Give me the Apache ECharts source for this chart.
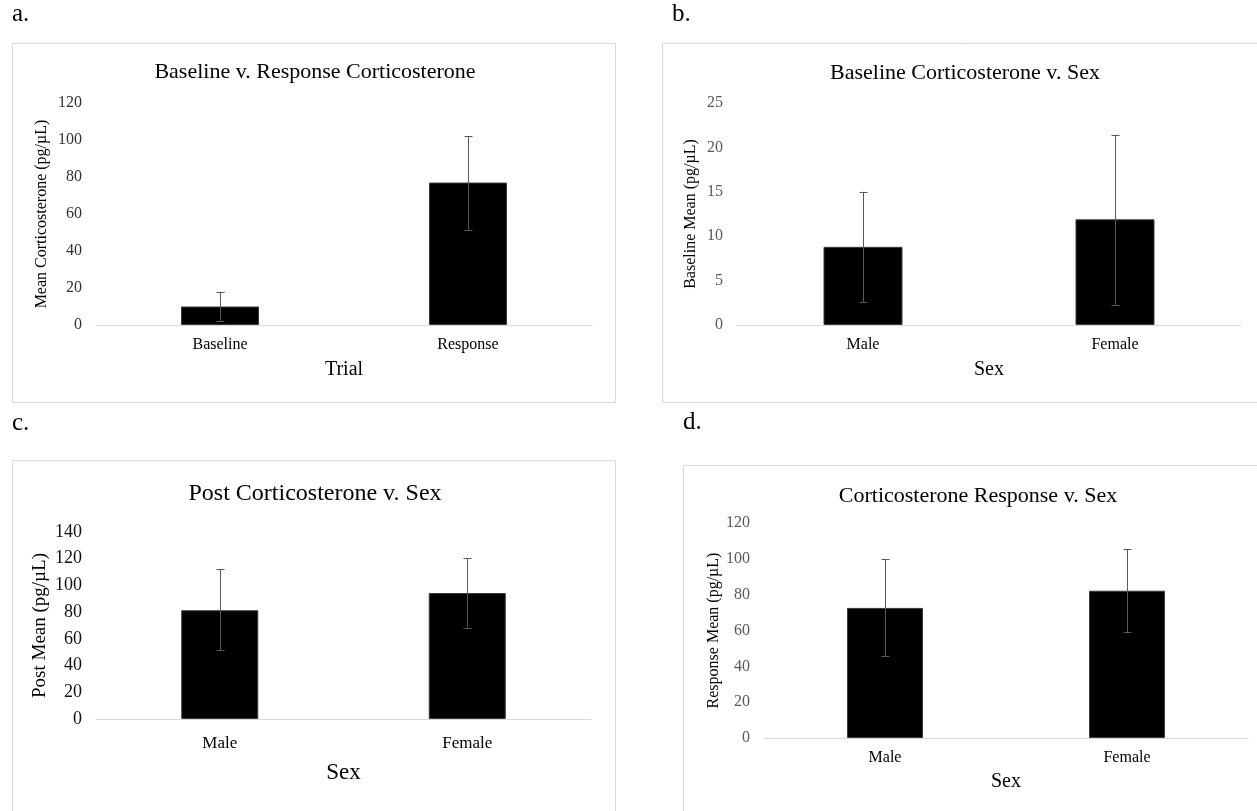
<!DOCTYPE html>
<html>
<head>
<meta charset="utf-8">
<script src="https://cdn.jsdelivr.net/npm/echarts@6/dist/echarts.min.js"></script>
<style>
html,body{margin:0;padding:0;background:#fff;}
#chart{width:1257px;height:811px;}
</style>
</head>
<body>
<div id="chart"></div>
<script>
// ---- Data ----
const aCats = ['Baseline', 'Response'];
const aMeans = [10, 77];
const aLow = [2.3, 51.5];
const aHigh = [18, 102];

const bCats = ['Male', 'Female'];
const bMeans = [8.8, 11.9];
const bLow = [2.6, 2.3];
const bHigh = [15, 21.4];

const cCats = ['Male', 'Female'];
const cMeans = [81.4, 94.3];
const cLow = [51.6, 68.5];
const cHigh = [112.3, 120.2];

const dCats = ['Male', 'Female'];
const dMeans = [72.6, 82.2];
const dLow = [45.6, 59.2];
const dHigh = [99.9, 105.4];

const titles = ['Baseline v. Response Corticosterone', 'Baseline Corticosterone v. Sex', 'Post Corticosterone v. Sex', 'Corticosterone Response v. Sex'];
const yNames = ['Mean Corticosterone (pg/µL)', 'Baseline Mean (pg/µL)', 'Post Mean (pg/µL)', 'Response Mean (pg/µL)'];
const xNames = ['Trial', 'Sex', 'Sex', 'Sex'];
const panelLetters = ['a.', 'b.', 'c.', 'd.'];
const yMax = [120, 25, 140, 120];
const yStep = [20, 5, 20, 20];

const cats = [aCats, bCats, cCats, dCats];
const means = [aMeans, bMeans, cMeans, dMeans];
const lows = [aLow, bLow, cLow, dLow];
const highs = [aHigh, bHigh, cHigh, dHigh];

// ---- Layout / style ----
const FONT = '"Liberation Serif", "Times New Roman", serif';
const grids = [
  {left: 96, top: 103, width: 496, height: 222},
  {left: 737, top: 103, width: 504, height: 222},
  {left: 96, top: 532, width: 495, height: 187},
  {left: 764, top: 523, width: 484, height: 215}
];
const barW = [78, 79, 77, 76];
const tickColor = ['#333333', '#595959', '#111111', '#595959'];
const tickSize = [16, 16, 18, 16];
const catSize = [16, 16, 17, 16];
const catMargin = [12, 12, 16, 12];
const yNameSize = [16, 16, 19, 16];
const yNameGap = [46, 38, 46, 42];
const xNameSize = [20, 20, 23, 20];
const xNameGap = [35, 35, 42, 34];
const titleSize = [22, 22, 24, 22];
const titlePos = [[310, 70], [960, 71], [310, 492], [973, 494]];
const frames = [[12, 43, 603, 359], [662, 43, 600, 359], [12, 460, 603, 360], [683, 465, 600, 360]];
const letterPos = [[12, 14], [672, 14], [12, 423], [683, 422]];

function errRender(params, api) {
  const x = api.value(0);
  const lo = api.coord([x, api.value(1)]);
  const hi = api.coord([x, api.value(2)]);
  const cx = Math.round(lo[0]) + 0.5;
  const w = 4;
  const st = {stroke: '#595959', lineWidth: 1};
  return {
    type: 'group',
    children: [
      {type: 'line', shape: {x1: cx, y1: lo[1], x2: cx, y2: hi[1]}, style: st},
      {type: 'line', shape: {x1: cx - w, y1: Math.round(hi[1]) + 0.5, x2: cx + w, y2: Math.round(hi[1]) + 0.5}, style: st},
      {type: 'line', shape: {x1: cx - w, y1: Math.round(lo[1]) + 0.5, x2: cx + w, y2: Math.round(lo[1]) + 0.5}, style: st}
    ]
  };
}

const option = {
  backgroundColor: '#fff',
  animation: false,
  title: titles.map((t, i) => ({
    text: t,
    left: titlePos[i][0],
    top: titlePos[i][1] - titleSize[i] * 0.62,
    textAlign: 'center',
    textStyle: {fontFamily: FONT, fontWeight: 'normal', fontSize: titleSize[i], color: '#000'}
  })),
  graphic: [
    ...frames.map(f => ({
      type: 'rect', shape: {x: f[0] + 0.5, y: f[1] + 0.5, width: f[2], height: f[3]},
      style: {fill: 'none', stroke: '#d9d9d9', lineWidth: 1}, z: 0
    })),
    ...letterPos.map((p, i) => ({
      type: 'text', x: p[0], y: p[1],
      style: {text: panelLetters[i], font: '25px ' + FONT, fill: '#000', textVerticalAlign: 'middle'}
    }))
  ],
  grid: grids,
  xAxis: cats.map((c, i) => ({
    type: 'category', gridIndex: i, data: c,
    name: xNames[i], nameLocation: 'middle', nameGap: xNameGap[i],
    nameTextStyle: {fontFamily: FONT, fontSize: xNameSize[i], color: '#000'},
    axisLine: {lineStyle: {color: '#d9d9d9', width: 1}},
    axisTick: {show: false},
    axisLabel: {fontFamily: FONT, fontSize: catSize[i], color: '#000', margin: catMargin[i]},
    splitLine: {show: false}
  })),
  yAxis: yMax.map((m, i) => ({
    type: 'value', gridIndex: i, min: 0, max: m, interval: yStep[i],
    name: yNames[i], nameLocation: 'middle', nameGap: yNameGap[i],
    nameTextStyle: {fontFamily: FONT, fontSize: yNameSize[i], color: '#000'},
    axisLine: {show: false}, axisTick: {show: false},
    axisLabel: {fontFamily: FONT, fontSize: tickSize[i], color: tickColor[i], margin: 14},
    splitLine: {show: false}
  })),
  series: [
    ...means.map((m, i) => ({
      type: 'bar', xAxisIndex: i, yAxisIndex: i, data: m, barWidth: barW[i],
      itemStyle: {color: '#000', borderColor: '#3a3a3a', borderWidth: 1}, z: 2
    })),
    ...means.map((m, i) => ({
      type: 'custom', xAxisIndex: i, yAxisIndex: i,
      data: m.map((v, j) => [j, lows[i][j], highs[i][j]]),
      renderItem: errRender, z: 5, silent: true
    }))
  ]
};

const chart = echarts.init(document.getElementById('chart'), null, {renderer: 'canvas'});
chart.setOption(option);
</script>
</body>
</html>
